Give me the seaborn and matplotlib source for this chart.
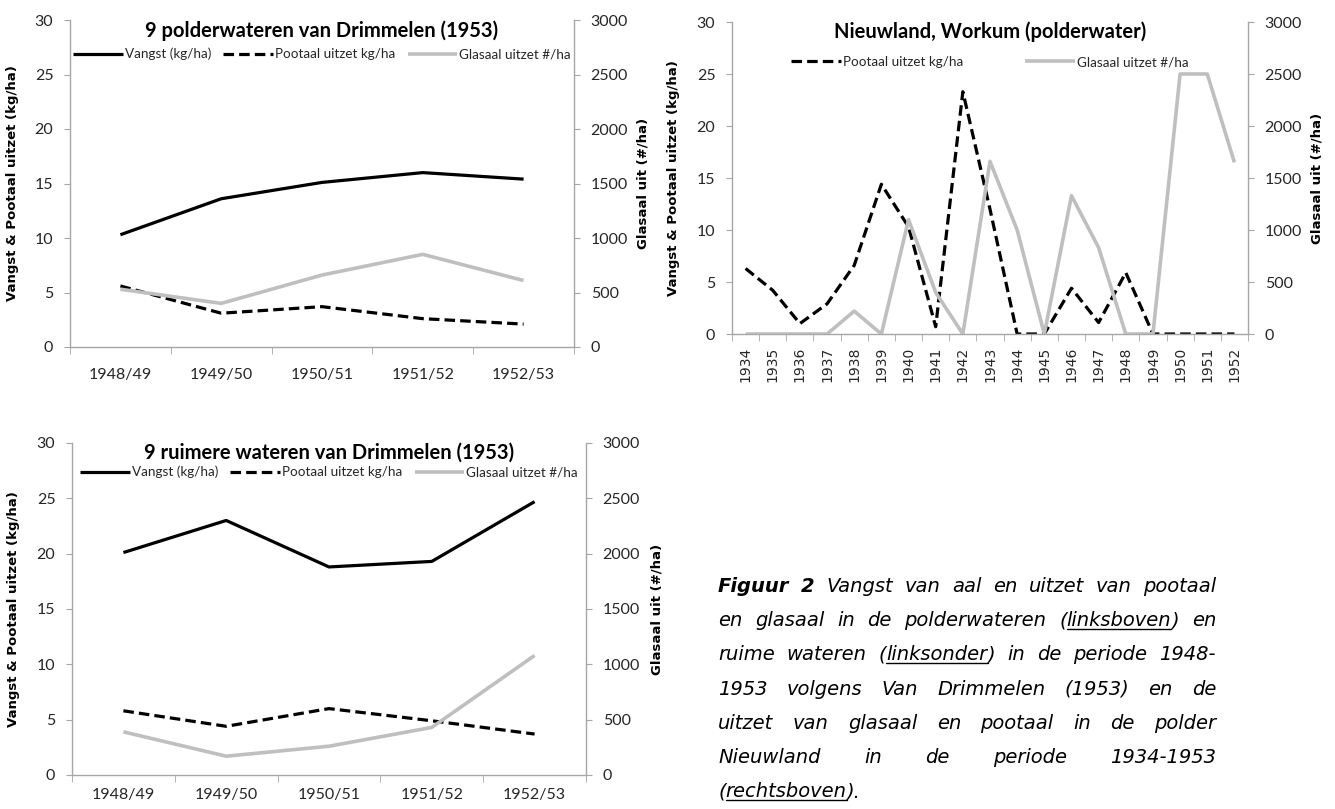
import re
import matplotlib
matplotlib.use("Agg")
import matplotlib.pyplot as plt
from matplotlib.lines import Line2D
import seaborn as sns

W, H = 1335, 809

# --- data ---
seasons = ['1948/49', '1949/50', '1950/51', '1951/52', '1952/53']

# 9 polderwateren van Drimmelen (linksboven)
polder_vangst = [10.3, 13.6, 15.1, 16.0, 15.4]
polder_pootaal = [5.6, 3.1, 3.7, 2.6, 2.1]
polder_glasaal = [530, 400, 660, 850, 610]

# 9 ruimere wateren van Drimmelen (linksonder)
ruim_vangst = [20.1, 23.0, 18.8, 19.3, 24.7]
ruim_pootaal = [5.8, 4.4, 6.0, 4.9, 3.7]
ruim_glasaal = [390, 170, 260, 430, 1080]

# Nieuwland, Workum (rechtsboven)
years = ['1934', '1935', '1936', '1937', '1938', '1939', '1940', '1941', '1942', '1943',
         '1944', '1945', '1946', '1947', '1948', '1949', '1950', '1951', '1952']
nieuw_pootaal = [6.3, 4.2, 1.0, 2.9, 6.6, 14.4, 10.3, 0.7, 23.3, 12.0,
                 0, 0, 4.4, 1.1, 5.9, 0, 0, 0, 0]
nieuw_glasaal = [0, 0, 0, 0, 220, 0, 1100, 400, 0, 1660,
                 1000, 0, 1330, 830, 0, 0, 2500, 2500, 1650]

LBL_VANGST = 'Vangst (kg/ha)'
LBL_POOT = 'Pootaal uitzet kg/ha'
LBL_GLAS = 'Glasaal uitzet #/ha'

CAPTION = [
    "*Figuur* *2* Vangst van aal en uitzet van pootaal",
    "en glasaal in de polderwateren (_linksboven_) en",
    "ruime wateren (_linksonder_) in de periode 1948-",
    "1953 volgens Van Drimmelen (1953) en de",
    "uitzet van glasaal en pootaal in de polder",
    "Nieuwland in de periode 1934-1953",
    "(_rechtsboven_).",
]

sns.set_style("ticks")
plt.rcParams['font.family'] = ['Lato', 'DejaVu Sans']

BLACK = '#000000'
GREY = '#BFBFBF'
AXIS = '#A6A6A6'
TXT = '#262626'
DASH = (0, (3.3, 1.6))

fig = plt.figure(figsize=(W / 100, H / 100), dpi=100, facecolor='white')


def panel(box, cats, title, series, title_y, legend_y, ncol, colspace,
          ylab_x, y2lab_x, rotate=False, xpad=15):
    left, top, right, bottom = box
    ax = fig.add_axes([left / W, 1 - bottom / H, (right - left) / W, (bottom - top) / H])
    ax2 = ax.twinx()
    handles = []
    for label, vals, secondary, color, ls, lw in series:
        target = ax2 if secondary else ax
        sns.lineplot(x=cats, y=vals, ax=target, sort=False, color=color,
                     linestyle=ls, linewidth=lw, legend=False)
        line = target.lines[-1]
        line.set_label(label)
        line.set_solid_capstyle('butt')
        handles.append(line)

    n = len(cats)
    ax.set_xlim(-0.5, n - 0.5)
    ax.set_ylim(0, 30)
    ax.set_yticks(range(0, 31, 5))
    ax2.set_ylim(0, 3000)
    ax2.set_yticks(range(0, 3001, 500))
    ax.set_xticks([i - 0.5 for i in range(n + 1)], minor=True)
    ax.set_xlabel('')

    for a in (ax, ax2):
        for s in a.spines.values():
            s.set_color(AXIS)
            s.set_linewidth(1.0)
        a.spines['top'].set_visible(False)
        a.grid(False)
    ax.spines['right'].set_visible(False)
    ax2.spines['left'].set_visible(False)
    ax2.spines['bottom'].set_visible(False)

    ax.tick_params(axis='y', direction='out', length=4, color=AXIS, labelcolor=TXT,
                   labelsize=11.5, pad=8)
    ax2.tick_params(axis='y', direction='out', length=4, color=AXIS, labelcolor=TXT,
                    labelsize=11.5, pad=8)
    ax.tick_params(axis='x', which='minor', direction='out', length=5, color=AXIS)
    if rotate:
        ax.tick_params(axis='x', which='major', length=0, pad=9, labelcolor=TXT)
        for t in ax.get_xticklabels():
            t.set_rotation(90)
            t.set_fontfamily('DejaVu Sans')
            t.set_fontsize(10)
    else:
        ax.tick_params(axis='x', which='major', length=0, pad=xpad, labelcolor=TXT,
                       labelsize=11.5)

    ylab = dict(fontfamily='DejaVu Sans', fontweight='bold', fontsize=9.5, color=BLACK)
    ax.set_ylabel('Vangst & Pootaal uitzet (kg/ha)', **ylab)
    ax2.set_ylabel('Glasaal uit (#/ha)', **ylab)
    ax.yaxis.set_label_coords((ylab_x - left) / (right - left), 0.5)
    ax2.yaxis.set_label_coords((y2lab_x - left) / (right - left), 0.5)

    ax2.text(0.5, (bottom - title_y) / (bottom - top), title, transform=ax2.transAxes,
             ha='center', va='center', fontsize=14.5, fontweight='bold', color=BLACK)
    ax2.legend(handles=handles, loc='center',
               bbox_to_anchor=(0.5, (bottom - legend_y) / (bottom - top)),
               ncol=ncol, frameon=False, fontsize=9.7, handlelength=3.7,
               handletextpad=0.15, columnspacing=colspace, borderaxespad=0)
    return ax, ax2


panel((70, 20, 574, 347), seasons, '9 polderwateren van Drimmelen (1953)',
      [(LBL_VANGST, polder_vangst, False, BLACK, '-', 2.3),
       (LBL_POOT, polder_pootaal, False, BLACK, DASH, 2.3),
       (LBL_GLAS, polder_glasaal, True, GREY, '-', 2.6)],
      title_y=31, legend_y=54, ncol=3, colspace=0.9, ylab_x=19, y2lab_x=637)

panel((732, 22, 1248, 334), years, 'Nieuwland, Workum (polderwater)',
      [(LBL_POOT, nieuw_pootaal, False, BLACK, DASH, 2.3),
       (LBL_GLAS, nieuw_glasaal, True, GREY, '-', 2.6)],
      title_y=32, legend_y=62, ncol=2, colspace=4.6, ylab_x=680, y2lab_x=1311,
      rotate=True)

panel((72, 443, 586, 775), seasons, '9 ruimere wateren van Drimmelen (1953)',
      [(LBL_VANGST, ruim_vangst, False, BLACK, '-', 2.3),
       (LBL_POOT, ruim_pootaal, False, BLACK, DASH, 2.3),
       (LBL_GLAS, ruim_glasaal, True, GREY, '-', 2.6)],
      title_y=453, legend_y=472, ncol=3, colspace=0.9, ylab_x=20, y2lab_x=650,
      xpad=9)

# --- caption, justified like the source document ---
CAP_L, CAP_R = 718, 1216
CAP_TOP, CAP_STEP = 592, 34.2
CAP_SIZE = 14


def fragments(word):
    out = []
    for part in re.split(r'(\*[^*]+\*|_[^_]+_)', word):
        if not part:
            continue
        if part.startswith('*'):
            out.append((part[1:-1], 'bold'))
        elif part.startswith('_'):
            out.append((part[1:-1], 'under'))
        else:
            out.append((part, 'plain'))
    return out


fig.canvas.draw()
renderer = fig.canvas.get_renderer()
space = 0.32 * CAP_SIZE * 100 / 72
for i, line in enumerate(CAPTION):
    y = 1 - (CAP_TOP + i * CAP_STEP) / H
    words = []
    for w in line.split():
        frs = []
        for txt, kind in fragments(w):
            t = fig.text(0, y, txt, fontsize=CAP_SIZE, fontstyle='italic',
                         fontweight='bold' if kind == 'bold' else 'normal',
                         fontfamily='DejaVu Sans', va='baseline', color=BLACK)
            frs.append((t, kind, t.get_window_extent(renderer).width))
        words.append(frs)
    widths = [sum(f[2] for f in frs) for frs in words]
    if i < len(CAPTION) - 1:
        gap = (CAP_R - CAP_L - sum(widths)) / (len(words) - 1)
    else:
        gap = space
    x = CAP_L
    for frs, wsum in zip(words, widths):
        for t, kind, fw in frs:
            t.set_x(x / W)
            if kind == 'under':
                fig.add_artist(Line2D([x / W, (x + fw) / W], [y - 3 / H, y - 3 / H],
                                      color=BLACK, linewidth=1.0))
            x += fw
        x += gap

fig.savefig('out.png', dpi=100, facecolor='white')
